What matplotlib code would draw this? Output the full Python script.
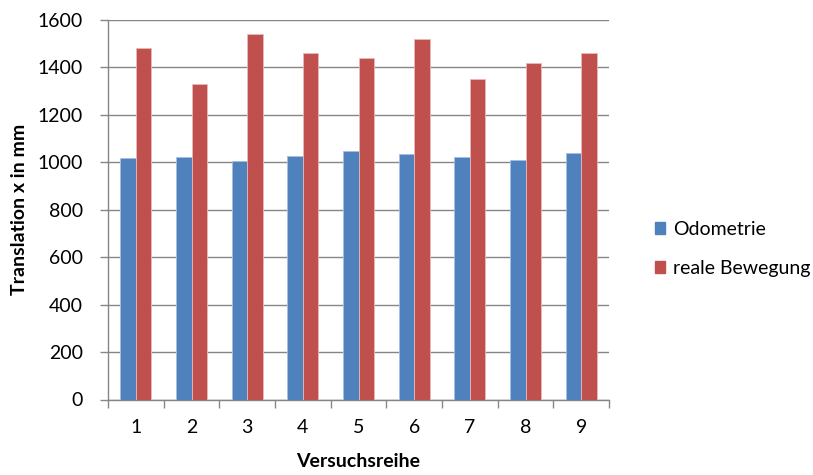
import matplotlib
matplotlib.use("Agg")
import matplotlib.pyplot as plt
import numpy as np
from matplotlib.patches import Patch

plt.rcParams['font.family'] = ['Lato', 'DejaVu Sans']

categories = ["1", "2", "3", "4", "5", "6", "7", "8", "9"]
odometrie = [1020, 1023, 1004, 1028, 1049, 1037, 1024, 1010, 1040]
real_motion = [1480, 1330, 1540, 1460, 1440, 1520, 1350, 1420, 1460]
y_ticks = [0, 200, 400, 600, 800, 1000, 1200, 1400, 1600]

blue = "#4F81BD"
red = "#C0504D"
grid_col = "#868686"
fs = 14

fig = plt.figure(figsize=(8.13, 4.75), dpi=100)
ax = fig.add_axes([108 / 813, 1 - 399.5 / 475, (609 - 108) / 813, (399.5 - 20) / 475])

x = np.arange(len(categories)) + 1
w = 0.28
ax.bar(x - w / 2, odometrie, w, color=blue, edgecolor="#A7BFDE", linewidth=0.6, zorder=3)
ax.bar(x + w / 2, real_motion, w, color=red, edgecolor="#E6B9B8", linewidth=0.6, zorder=3)

ax.set_xlim(0.5, 9.5)
ax.set_ylim(0, 1600)
ax.set_yticks(y_ticks)
ax.set_yticklabels([str(v) for v in y_ticks], fontsize=fs)
ax.yaxis.grid(True, color=grid_col, linewidth=1.0, zorder=0)
ax.set_axisbelow(True)

# category labels centred, tick marks between categories
ax.set_xticks(x)
ax.set_xticklabels(categories, fontsize=fs)
ax.tick_params(axis='x', length=0, pad=14)
ax.set_xticks(np.arange(0.5, 10.0, 1.0), minor=True)
ax.tick_params(axis='x', which='minor', length=6, color=grid_col, width=1.0)
ax.tick_params(axis='y', length=6, color=grid_col, width=1.0, pad=12)

for s in ["top", "right"]:
    ax.spines[s].set_visible(False)
for s in ["left", "bottom"]:
    ax.spines[s].set_color(grid_col)
    ax.spines[s].set_linewidth(1.0)

ax.set_ylabel("Translation x in mm", fontsize=fs, fontweight="bold", labelpad=7)
ax.set_xlabel("Versuchsreihe", fontsize=fs, fontweight="bold", labelpad=12)

handles = [Patch(facecolor=blue, edgecolor=blue), Patch(facecolor=red, edgecolor=red)]
fig.legend(handles, ["Odometrie", "reale Bewegung"], loc="center left",
           bbox_to_anchor=(637 / 813, 1 - 249 / 475), frameon=False,
           fontsize=fs, handlelength=0.55, handleheight=0.55,
           handletextpad=0.4, labelspacing=1.15)

fig.savefig("out.png", dpi=100)
